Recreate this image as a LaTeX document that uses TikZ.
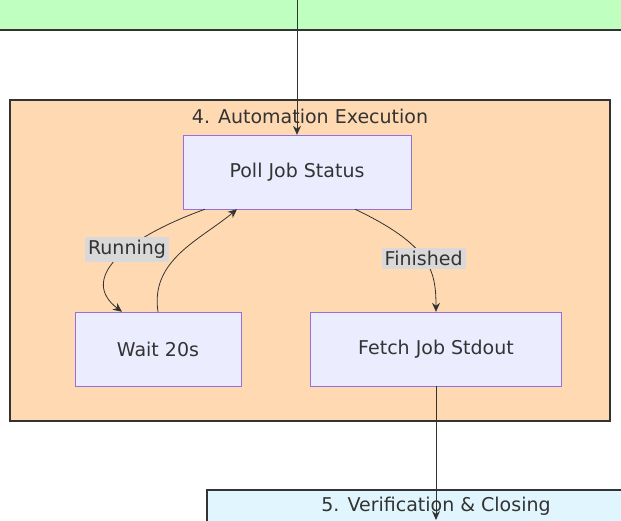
\documentclass[tikz,border=0pt]{standalone}
\usepackage{fontspec}
\setmainfont{DejaVu Sans}
\usetikzlibrary{arrows.meta,positioning}
\definecolor{stepfill}{HTML}{ECECFF}
\definecolor{stepdraw}{HTML}{9370DB}
\definecolor{groupdraw}{HTML}{333333}
\tikzset{
	jobstep/.style={
		rectangle,
		draw=stepdraw,
		fill=stepfill,
		minimum height=74pt,
		font=\fontsize{19}{22}\selectfont,
		text=groupdraw
	},
	group/.style={
		draw=groupdraw,
		line width=1.5pt
	},
	edgelabel/.style={
		fill=black!15,
		inner sep=3pt,
		font=\fontsize{19}{22}\selectfont,
		text=groupdraw
	},
	arc/.style={
		-{Stealth[length=9pt,width=8pt]},
		draw=groupdraw,
		thick
	}
}
\begin{document}
\begin{tikzpicture}[x=1pt,y=-1pt]
	\useasboundingbox (0,0) rectangle (621,520);
	% outer groups
	\fill[green!25!white] (-5,-5) rectangle (626,30);
	\draw[group] (-5,30) -- (626,30);
	\draw[group,fill=orange!30!white] (10,100) rectangle (610,421);
	\node[font=\fontsize{19}{22}\selectfont,text=groupdraw] (title4) at (310,116) {4. Automation Execution};
	\draw[group,fill=cyan!12!white] (207,490) rectangle (630,530);
	\node[font=\fontsize{19}{22}\selectfont,text=groupdraw] (title5) at (436,506) {5. Verification \& Closing};

	% steps
	\node [jobstep, minimum width=228pt] (poll) at (297,172) {Poll Job Status};
	\node [jobstep, minimum width=166pt] (wait) at (158,349) {Wait 20s};
	\node [jobstep, minimum width=251pt] (fetch) at (436,349) {Fetch Job Stdout};
	\coordinate (in) at (297,0);
	\coordinate (out) at (436,520);

	\draw[arc] (in) -- (poll.north);
	\draw[arc] (poll.south -| 205,0) .. controls (120,240) and (80,280) .. (wait.north -| 122,0)
		node[edgelabel,pos=0.4] {Running};
	\draw[arc] (wait.north) .. controls (150,260) and (200,240) .. (poll.south -| 237,0);
	\draw[arc] (poll.south -| 355,0) .. controls (430,245) and (436,270) .. (fetch.north)
		node[edgelabel,pos=0.5] {Finished};
	\draw[arc] (fetch.south) -- (out);
\end{tikzpicture}
\end{document}
